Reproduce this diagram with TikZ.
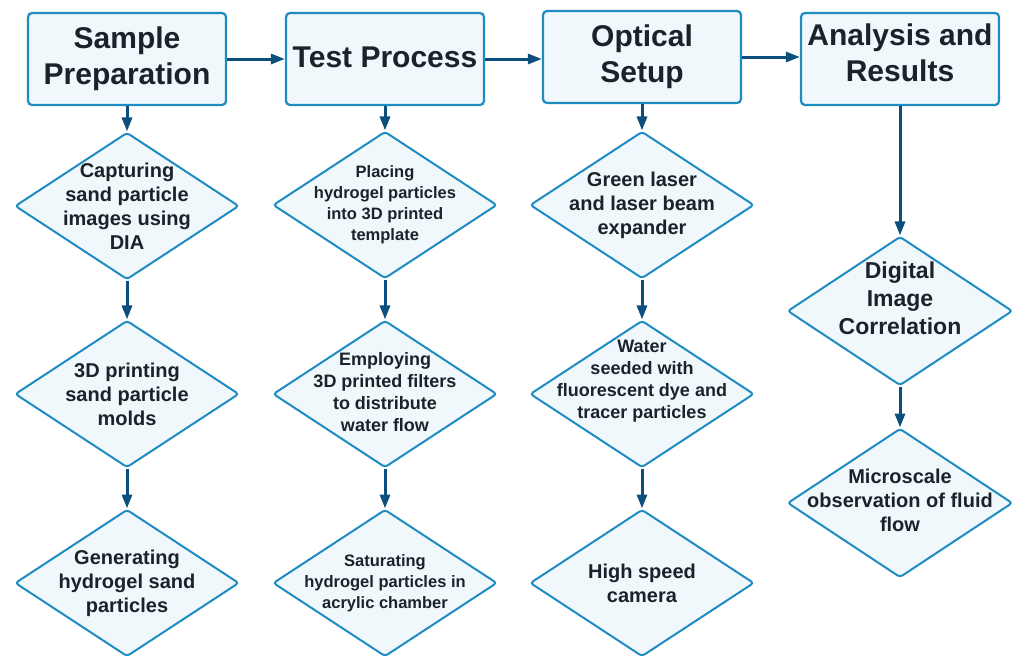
\documentclass[tikz,border=0pt]{standalone}
\usepackage{fontspec}
\setmainfont{Liberation Sans}
\usetikzlibrary{shapes.geometric,arrows.meta}
\definecolor{edgeblue}{HTML}{1F8BC3}
\definecolor{fillblue}{HTML}{F1F8FC}
\definecolor{arrowblue}{HTML}{0D4F7C}
\definecolor{inkdark}{HTML}{1B2229}
\tikzset{
  stage/.style={draw=edgeblue,fill=fillblue,line width=2.2pt,rounded corners=4pt,
    minimum width=198pt,minimum height=92pt,align=center,text=inkdark,
    font=\fontsize{30}{36}\selectfont\bfseries},
  dia/.style={diamond,draw=edgeblue,fill=fillblue,line width=2pt,rounded corners=3pt,
    minimum width=224pt,minimum height=147pt},
  dtxt/.style={align=center,text=inkdark,font=\fontsize{20}{24}\selectfont\bfseries},
  dsmall/.style={dtxt,font=\fontsize{16.5}{21}\selectfont\bfseries},
  dmid/.style={dtxt,font=\fontsize{18}{22}\selectfont\bfseries},
  dbig/.style={dtxt,font=\fontsize{23}{28}\selectfont\bfseries},
  flow/.style={draw=arrowblue,line width=3pt,-{Triangle[length=14pt,width=10pt]}},
}
\begin{document}
\begin{tikzpicture}[x=1pt,y=-1pt]
    \useasboundingbox (0,0) rectangle (1014,656);
    % stage boxes
    \node[stage] (b1) at (127,59) {Sample\\Preparation};
    \node[stage] (b2) at (385,59) {\raisebox{3pt}{Test Process}};
    \node[stage] (b3) at (642,57) {Optical\\Setup};
    \node[stage,text depth=12pt] (b4) at (900,59) {Analysis and\\Results};
    % sample preparation
    \node[dia,label={[dtxt]center:{Capturing\\sand particle\\images using\\DIA}}] (s1) at (127,206) {};
    \node[dia,label={[dtxt]center:{3D printing\\sand particle\\molds}}] (s2) at (127,394) {};
    \node[dia,label={[dtxt]center:{Generating\\hydrogel sand\\particles}}] (s3) at (127,583) {};
    % test process
    \node[dia,label={[dsmall]center:{Placing\\hydrogel particles\\into 3D printed\\template}}] (t1) at (385,205) {};
    \node[dia,label={[dmid,yshift=2pt]center:{Employing\\3D printed filters\\to distribute\\water flow}}] (t2) at (385,394) {};
    \node[dia,label={[dsmall]center:{Saturating\\hydrogel particles in\\acrylic chamber}}] (t3) at (385,583) {};
    % optical setup
    \node[dia,label={[dtxt]center:{Green laser\\and laser beam\\expander}}] (o1) at (642,205) {};
    \node[dia,label={[dmid,yshift=13pt]center:{Water\\seeded with\\fluorescent dye and\\tracer particles}}] (o2) at (642,394) {};
    \node[dia,label={[dtxt]center:{High speed\\camera}}] (o3) at (642,583) {};
    % analysis
    \node[dia,minimum width=225pt,minimum height=149pt,label={[dbig,yshift=13pt]center:{Digital\\Image\\Correlation}}] (a1) at (900,311) {};
    \node[dia,minimum width=225pt,minimum height=149pt,label={[dtxt,yshift=3pt]center:{Microscale\\observation of fluid\\flow}}] (a2) at (900,503) {};
    % connectors
    \draw[flow] (b1) -- (b2);
    \draw[flow] (b2) -- (b2 -| b3.west);
    \draw[flow] (b3) -- (b3 -| b4.west);
    \draw[flow] (b1) -- (s1);
    \draw[flow] (s1) -- (s2);
    \draw[flow] (s2) -- (s3);
    \draw[flow] (b2) -- (t1);
    \draw[flow] (t1) -- (t2);
    \draw[flow] (t2) -- (t3);
    \draw[flow] (b3) -- (o1);
    \draw[flow] (o1) -- (o2);
    \draw[flow] (o2) -- (o3);
    \draw[flow] (b4) -- (a1);
    \draw[flow] (a1) -- (a2);
\end{tikzpicture}
\end{document}
